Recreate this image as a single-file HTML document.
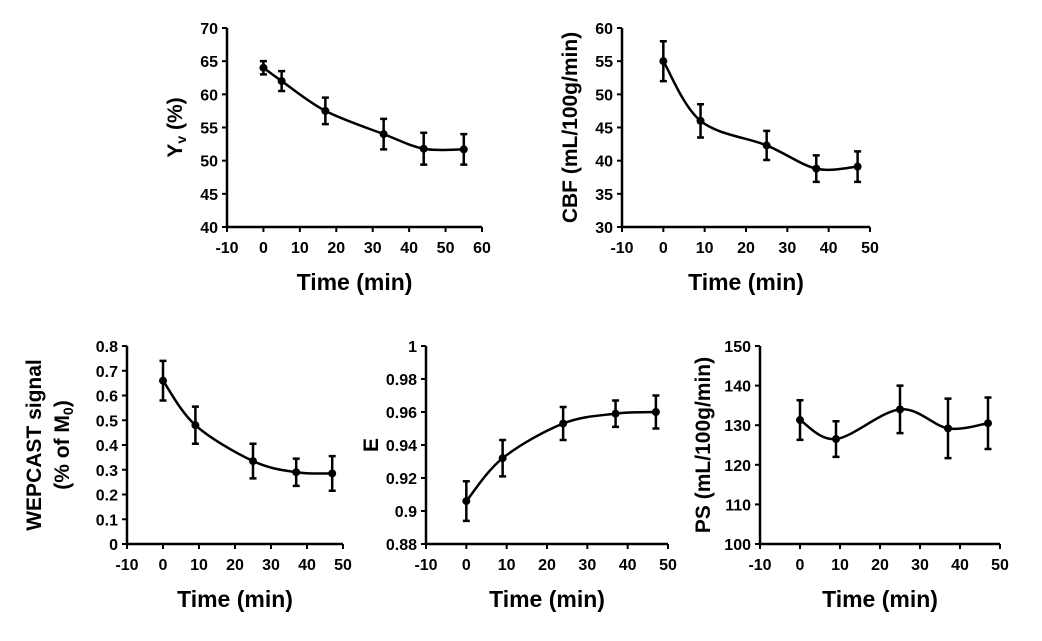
<!DOCTYPE html>
<html><head><meta charset="utf-8"><style>
body{margin:0;background:#fff;width:1042px;height:636px;overflow:hidden}
text{font-family:"Liberation Sans",sans-serif;font-weight:bold;fill:#000}
</style></head><body>
<svg id="s" width="1042" height="636"></svg>
<script>
const timeA=[0,5,17,33,44,55], yvVals=[64,62,57.5,54,51.8,51.7], yvErr=[1,1.5,2,2.3,2.4,2.3];
const timeB=[0,9,25,37,47], cbfVals=[55,46,42.3,38.8,39.1], cbfErr=[3,2.5,2.2,2,2.3];
const wepVals=[0.66,0.48,0.335,0.29,0.285], wepErr=[0.08,0.075,0.07,0.055,0.07];
const timeE=[0,9,24,37,47], eVals=[0.906,0.932,0.953,0.959,0.960], eErr=[0.012,0.011,0.01,0.008,0.01];
const psVals=[131.3,126.5,134,129.2,130.5], psErr=[5,4.5,6,7.5,6.5];
const NS="http://www.w3.org/2000/svg", svg=document.getElementById('s');
function el(t,a,p){const e=document.createElementNS(NS,t);for(const k in a)e.setAttribute(k,a[k]);(p||svg).appendChild(e);return e;}
function chart(cfg){
  const g=el('g',{});
  
  
  const X=v=>cfg.x0+(v-cfg.xmin)/(cfg.xmax-cfg.xmin)*(cfg.x1-cfg.x0);
  const Y=v=>cfg.y0-(v-cfg.ymin)/(cfg.ymax-cfg.ymin)*(cfg.y0-cfg.y1);
  el('line',{x1:cfg.x0,y1:cfg.y1,x2:cfg.x0,y2:cfg.y0,stroke:'#000','stroke-width':2.5},g);
  el('line',{x1:cfg.x0,y1:cfg.y0,x2:cfg.x1,y2:cfg.y0,stroke:'#000','stroke-width':2.5},g);
  cfg.yt.forEach(v=>{const y=Y(v);el('line',{x1:cfg.x0-5,y1:y,x2:cfg.x0,y2:y,stroke:'#000','stroke-width':2},g);
    const t=el('text',{x:cfg.x0-9,y:y+6,'text-anchor':'end','font-size':16},g);t.textContent=cfg.yl(v);
    });
  for(let v=cfg.xmin;v<=cfg.xmax;v+=10){const x=X(v);el('line',{x1:x,y1:cfg.y0,x2:x,y2:cfg.y0+5,stroke:'#000','stroke-width':2},g);
    const t=el('text',{x:x,y:cfg.y0+26,'text-anchor':'middle','font-size':16},g);t.textContent=v;
    }
  const xt=el('text',{x:(cfg.x0+cfg.x1)/2,y:cfg.y0+63,'text-anchor':'middle','font-size':23},g);xt.textContent='Time (min)';
  
  const yt=el('text',{transform:`translate(${cfg.tx},${(cfg.y0+cfg.y1)/2}) rotate(-90)`,'text-anchor':'middle','font-size':21},g);
  yt.innerHTML=cfg.title;
  if(cfg.title2){const t2=el('text',{transform:`translate(${cfg.tx+28},${(cfg.y0+cfg.y1)/2}) rotate(-90)`,'text-anchor':'middle','font-size':21},g);t2.innerHTML=cfg.title2;
    }
  const P=cfg.xs.map((x,i)=>[X(x),Y(cfg.ys[i])]);
  let d=`M${P[0][0]},${P[0][1]}`;
  for(let i=0;i<P.length-1;i++){const p0=P[i-1]||P[i],p1=P[i],p2=P[i+1],p3=P[i+2]||p2;
    d+=` C${p1[0]+(p2[0]-p0[0])/6},${p1[1]+(p2[1]-p0[1])/6} ${p2[0]-(p3[0]-p1[0])/6},${p2[1]-(p3[1]-p1[1])/6} ${p2[0]},${p2[1]}`;}
  const ln=el('path',{d:d,fill:'none',stroke:'#000','stroke-width':2.5},g);
  
  cfg.xs.forEach((x,i)=>{const px=X(x),v=cfg.ys[i],e=cfg.es[i];
    const eb=el('path',{d:`M${px},${Y(v+e)}V${Y(v-e)}M${px-3.5},${Y(v+e)}H${px+3.5}M${px-3.5},${Y(v-e)}H${px+3.5}`,stroke:'#000','stroke-width':2.5,fill:'none'},g);
    
    const c=el('circle',{cx:px,cy:Y(v),r:4,fill:'#000'},g);
    });
}
chart({name:'yv-chart',x0:227,x1:482,y0:227,y1:28,xmin:-10,xmax:60,ymin:40,ymax:70,yt:[40,45,50,55,60,65,70],yl:v=>v,xs:timeA,ys:yvVals,es:yvErr,tx:182,title:'Y<tspan font-size="14" dy="4">v</tspan><tspan dy="-4"> (%)</tspan>'});
chart({name:'cbf-chart',x0:622,x1:870,y0:227,y1:28,xmin:-10,xmax:50,ymin:30,ymax:60,yt:[30,35,40,45,50,55,60],yl:v=>v,xs:timeB,ys:cbfVals,es:cbfErr,tx:577,title:'CBF (mL/100g/min)'});
chart({name:'wepcast-chart',x0:127,x1:343,y0:544,y1:346,xmin:-10,xmax:50,ymin:0,ymax:0.8,yt:[0,0.1,0.2,0.3,0.4,0.5,0.6,0.7,0.8],yl:v=>v==0?'0':v.toFixed(1),xs:timeB,ys:wepVals,es:wepErr,tx:41,title:'WEPCAST signal',title2:'(% of M<tspan font-size="14" dy="4">0</tspan><tspan dy="-4">)</tspan>'});
chart({name:'e-chart',x0:426,x1:668,y0:544,y1:346,xmin:-10,xmax:50,ymin:0.88,ymax:1,yt:[0.88,0.9,0.92,0.94,0.96,0.98,1],yl:v=>v==1?'1':(+v.toFixed(2)).toString(),xs:timeE,ys:eVals,es:eErr,tx:378,title:'E'});
chart({name:'ps-chart',x0:760,x1:1000,y0:544,y1:346,xmin:-10,xmax:50,ymin:100,ymax:150,yt:[100,110,120,130,140,150],yl:v=>v,xs:timeB,ys:psVals,es:psErr,tx:710,title:'PS (mL/100g/min)'});
</script>
</body></html>
